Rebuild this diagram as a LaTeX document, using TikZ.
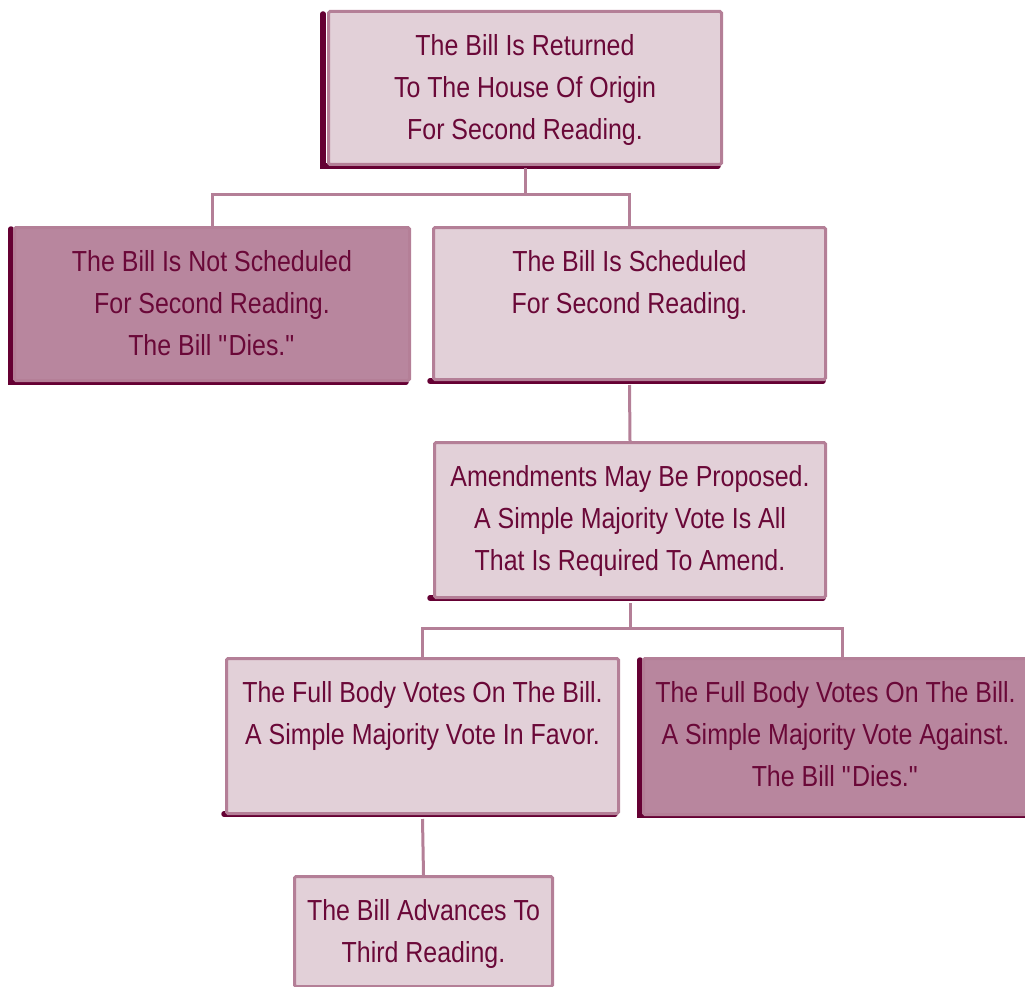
\documentclass[tikz,border=0pt]{standalone}
\usepackage{fontspec}
\setmainfont[FakeStretch=0.86]{Liberation Sans}
\definecolor{lightfill}{HTML}{E2D0D8}
\definecolor{darkfill}{HTML}{B8869E}
\definecolor{edgecol}{HTML}{B47F97}
\definecolor{shadowcol}{HTML}{650033}
\definecolor{txtcol}{HTML}{6A0838}
\tikzset{
  x=1pt, y=-1pt,
  boxlight/.style={draw=edgecol, line width=3pt, fill=lightfill, rounded corners=1.5pt, inner sep=0pt},
  boxdark/.style={draw=edgecol, line width=3pt, fill=darkfill, rounded corners=1.5pt, inner sep=0pt},
  label/.style={anchor=north, align=center, text=txtcol, font=\fontsize{29}{42}\selectfont, inner sep=0pt},
  shade/.style={draw=shadowcol, line width=5.5pt, line cap=round},
  conn/.style={draw=edgecol, line width=3pt}
}
\begin{document}
\begin{tikzpicture}
\useasboundingbox (0,0) rectangle (1025,987);
% shadows
\draw[shade] (323,14) -- (323,166) -- (718,166);
\draw[shade] (11,229) -- (11,382) -- (406,382);
\draw[shade] (430,381) -- (823,381);
\draw[shade] (430,598) -- (823,598);
\draw[shade] (224,814) -- (615,814);
\draw[shade] (640,660) -- (640,815) -- (1025,815);
% boxes
\node[boxlight, minimum width=393pt, minimum height=153pt, anchor=north west] (ret) at (327,10) {};
\node[boxdark, minimum width=395pt, minimum height=153pt, anchor=north west] (nots) at (13,226) {};
\node[boxlight, minimum width=392pt, minimum height=152pt, anchor=north west] (sch) at (432,226) {};
\node[boxlight, minimum width=391pt, minimum height=155pt, anchor=north west] (amd) at (433,441) {};
\node[boxlight, minimum width=392pt, minimum height=155pt, anchor=north west] (fav) at (225,657) {};
\node[boxdark, minimum width=384pt, minimum height=156pt, anchor=north west] (agn) at (642,657) {};
\node[boxlight, minimum width=258pt, minimum height=110pt, anchor=north west] (adv) at (293,875) {};
% texts
\node[label] (tret) at ([yshift=-24pt]ret.north) {The Bill Is Returned\\To The House Of Origin\\For Second Reading.};
\node[label] (tnots) at ([yshift=-24pt]nots.north) {The Bill Is Not Scheduled\\For Second Reading.\\The Bill \textquotedbl Dies.\textquotedbl};
\node[label] (tsch) at ([yshift=-24pt]sch.north) {The Bill Is Scheduled\\For Second Reading.};
\node[label] (tamd) at ([yshift=-24pt]amd.north) {Amendments May Be Proposed.\\A Simple Majority Vote Is All\\That Is Required To Amend.};
\node[label] (tfav) at ([yshift=-24pt]fav.north) {The Full Body Votes On The Bill.\\A Simple Majority Vote In Favor.};
\node[label] (tagn) at ([yshift=-24pt]agn.north) {The Full Body Votes On The Bill.\\A Simple Majority Vote Against.\\The Bill \textquotedbl Dies.\textquotedbl};
\node[label] (tadv) at ([yshift=-24pt]adv.north) {The Bill Advances To\\Third Reading.};
% connectors
\coordinate (j1) at (524,195);
\coordinate (j2) at (630,628);
\draw[conn] ([yshift=-2pt]ret.south) |- (j1) -| (nots.north);
\draw[conn] (j1) -| (sch.north);
\draw[conn] ([yshift=-4pt]sch.south) -- (amd.north);
\draw[conn] ([yshift=-4pt]amd.south) |- (j2) -| (fav.north);
\draw[conn] (j2) -| ([xshift=7pt]agn.north);
\draw[conn] ([yshift=-4pt]fav.south) -- (adv.north);
\end{tikzpicture}
\end{document}
